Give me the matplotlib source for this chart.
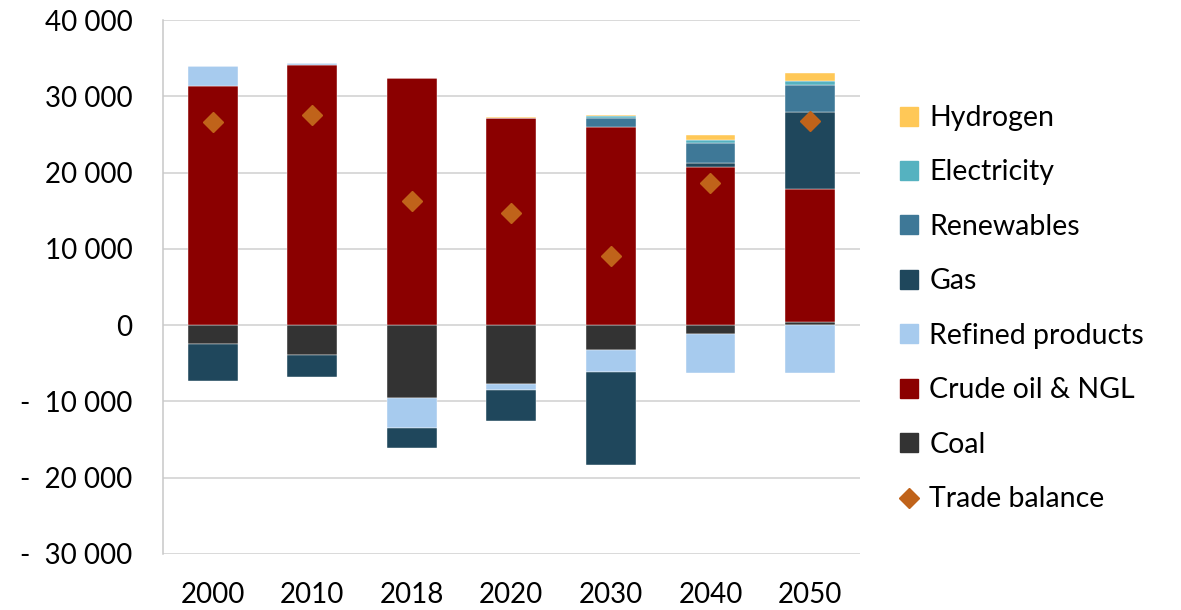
import numpy as np
import matplotlib
matplotlib.use('Agg')
import matplotlib.pyplot as plt
from matplotlib.patches import Patch
from matplotlib.lines import Line2D

plt.rcParams['font.family'] = ['Lato', 'DejaVu Sans']

years = ['2000', '2010', '2018', '2020', '2030', '2040', '2050']
coal = [-2540, -3940, -9540, -7760, -3280, -1225, 350]
crude = [31400, 34180, 32430, 27190, 25950, 20700, 17460]
refined = [2600, 150, -3940, -790, -2890, -5080, -6300]
gas = [-4800, -2800, -2620, -3990, -12210, 610, 10110]
renewables = [0, 0, 0, 0, 1270, 2630, 3630]
electricity = [0, 0, 0, 0, 220, 390, 490]
hydrogen = [0, 0, 0, 50, 90, 610, 1050]
trade = [26600, 27600, 16280, 14690, 9100, 18690, 26780]

series = [('Coal', coal, '#333333'),
          ('Crude oil & NGL', crude, '#8B0000'),
          ('Refined products', refined, '#A7CBEE'),
          ('Gas', gas, '#1F475C'),
          ('Renewables', renewables, '#3E7897'),
          ('Electricity', electricity, '#55B2C0'),
          ('Hydrogen', hydrogen, '#FFC857')]

fig = plt.figure(figsize=(11.81, 6.10), dpi=100)
ax = fig.add_axes([0.138, 0.092, 0.59, 0.875])

x = np.arange(len(years))
pos = np.zeros(len(years))
neg = np.zeros(len(years))
for name, vals, col in series:
    v = np.array(vals, dtype=float)
    bottom = np.where(v >= 0, pos, neg)
    ax.bar(x, v, 0.5, bottom=bottom, color=col, edgecolor='white', linewidth=0.3, zorder=2)
    pos = pos + np.where(v > 0, v, 0)
    neg = neg + np.where(v < 0, v, 0)

ax.plot(x, trade, linestyle='none', marker='D', markersize=10, color='#C0631A', zorder=3)

ax.set_xlim(-0.5, 6.5)
ax.set_ylim(-30000, 40000)
ax.set_yticks(np.arange(-30000, 40001, 10000))

def fmt(v):
    if v == 0:
        return '0'
    s = '{:,.0f}'.format(abs(v)).replace(',', ' ')
    return ('-  ' + s) if v < 0 else s

ax.set_yticklabels([fmt(v) for v in ax.get_yticks()])
ax.set_xticks(x)
ax.set_xticklabels(years)
ax.tick_params(axis='both', length=0, labelsize=20)
ax.tick_params(axis='y', pad=22)
ax.tick_params(axis='x', pad=20)
ax.grid(axis='y', color='#D0D0D0', linewidth=1.1, zorder=0)
ax.set_axisbelow(True)
for s in ['top', 'right', 'bottom']:
    ax.spines[s].set_visible(False)
ax.spines['left'].set_color('#C8C8C8')
ax.spines['left'].set_linewidth(1.1)

handles = [Patch(color=col, label=name) for name, vals, col in series[::-1]]
handles.append(Line2D([], [], linestyle='none', marker='D', markersize=10, color='#C0631A', label='Trade balance'))
fig.legend(handles=handles, loc='center left', bbox_to_anchor=(0.74, 0.494), frameon=False,
           fontsize=20.5, handlelength=0.65, handleheight=0.65, handletextpad=0.4, labelspacing=1.0)

plt.savefig('out.png')
